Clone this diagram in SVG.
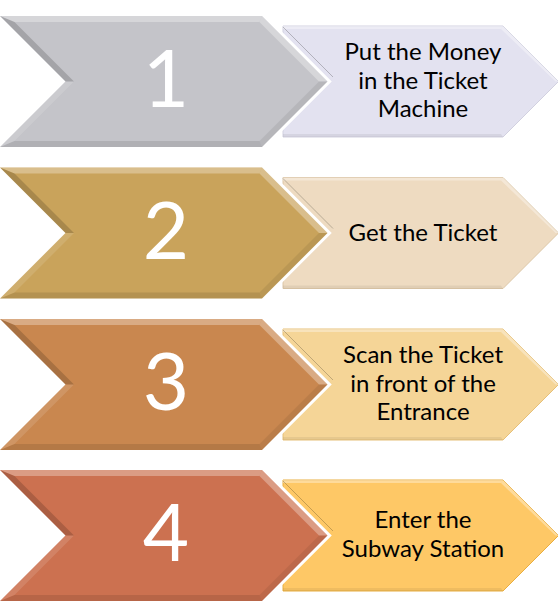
<svg xmlns="http://www.w3.org/2000/svg" width="558" height="602" viewBox="0 0 558 602">
<style>
.num{font-family:Lato,"Liberation Sans",sans-serif;font-size:80px;fill:#ffffff;text-anchor:middle}
.lbl{font-family:Lato,"Liberation Sans",sans-serif;font-size:24px;fill:#000000;text-anchor:middle}
.gap{fill:none;stroke:#ffffff;stroke-width:6;stroke-linejoin:miter}
.shadow{stroke:#000;stroke-opacity:0.22;stroke-width:1;fill:none}
</style>
<defs>
<polygon id="chev" points="0,0 262,0 327.5,65.5 262,131 0,131 65.5,65.5"/>
<polygon id="pent" points="283,10 503,10 558.5,65.5 503,121 283,121"/>
<g id="bevel">
<polygon points="0,0 262,0 259.5,6 14.5,6" fill="#fff" fill-opacity="0.3"/>
<polygon points="262,0 327.5,65.5 319,65.5 259.5,6" fill="#fff" fill-opacity="0.3"/>
<polygon points="327.5,65.5 262,131 259.5,125 319,65.5" fill="#000" fill-opacity="0.07"/>
<polygon points="262,131 0,131 14.5,125 259.5,125" fill="#000" fill-opacity="0.1"/>
<polygon points="0,131 65.5,65.5 74,65.5 14.5,125" fill="#fff" fill-opacity="0.12"/>
<polygon points="65.5,65.5 0,0 14.5,6 74,65.5" fill="#000" fill-opacity="0.16"/>
</g>
<g id="pbevel">
<polygon points="283,10 503,10 501,13 283,13" fill="#fff" fill-opacity="0.35"/>
<polygon points="503,10 558.5,65.5 555.5,65.5 501,13" fill="#fff" fill-opacity="0.35"/>
<polygon points="283,121 503,121 501,118 283,118" fill="#000" fill-opacity="0.06"/>
</g>
</defs>
<g id="connectors"/>

<g id="step1" transform="translate(0,16)">
<use href="#pent" fill="#E3E2F0" stroke="#D2D1E0" stroke-width="1"/>
<use href="#pbevel"/>
<line class="shadow" x1="283" y1="11" x2="333" y2="61"/>
<use href="#chev" class="gap"/>
<use href="#chev" fill="#C4C4C9"/>
<use href="#bevel"/>
<text class="num" x="166" y="91">1</text>
<text class="lbl" x="423" y="44">Put the Money</text>
<text class="lbl" x="423" y="73">in the Ticket</text>
<text class="lbl" x="423" y="101">Machine</text>
</g>

<g id="step2" transform="translate(0,167.5)">
<use href="#pent" fill="#EEDBC1" stroke="#DCC6A6" stroke-width="1"/>
<use href="#pbevel"/>
<line class="shadow" x1="283" y1="11" x2="333" y2="61"/>
<use href="#chev" class="gap"/>
<use href="#chev" fill="#C9A35B"/>
<use href="#bevel"/>
<text class="num" x="166" y="91">2</text>
<text class="lbl" x="423" y="73">Get the Ticket</text>
</g>

<g id="step3" transform="translate(0,319)">
<use href="#pent" fill="#F5D597" stroke="#E6C078" stroke-width="1"/>
<use href="#pbevel"/>
<line class="shadow" x1="283" y1="11" x2="333" y2="61"/>
<use href="#chev" class="gap"/>
<use href="#chev" fill="#C9874F"/>
<use href="#bevel"/>
<text class="num" x="166" y="91">3</text>
<text class="lbl" x="423" y="44">Scan the Ticket</text>
<text class="lbl" x="423" y="73">in front of the</text>
<text class="lbl" x="423" y="101">Entrance</text>
</g>

<g id="step4" transform="translate(0,470)">
<use href="#pent" fill="#FEC866" stroke="#E8AE40" stroke-width="1"/>
<use href="#pbevel"/>
<line class="shadow" x1="283" y1="11" x2="333" y2="61"/>
<use href="#chev" class="gap"/>
<use href="#chev" fill="#CC7150"/>
<use href="#bevel"/>
<text class="num" x="166" y="91">4</text>
<text class="lbl" x="423" y="58">Enter the</text>
<text class="lbl" x="423" y="87">Subway Station</text>
</g>
</svg>
